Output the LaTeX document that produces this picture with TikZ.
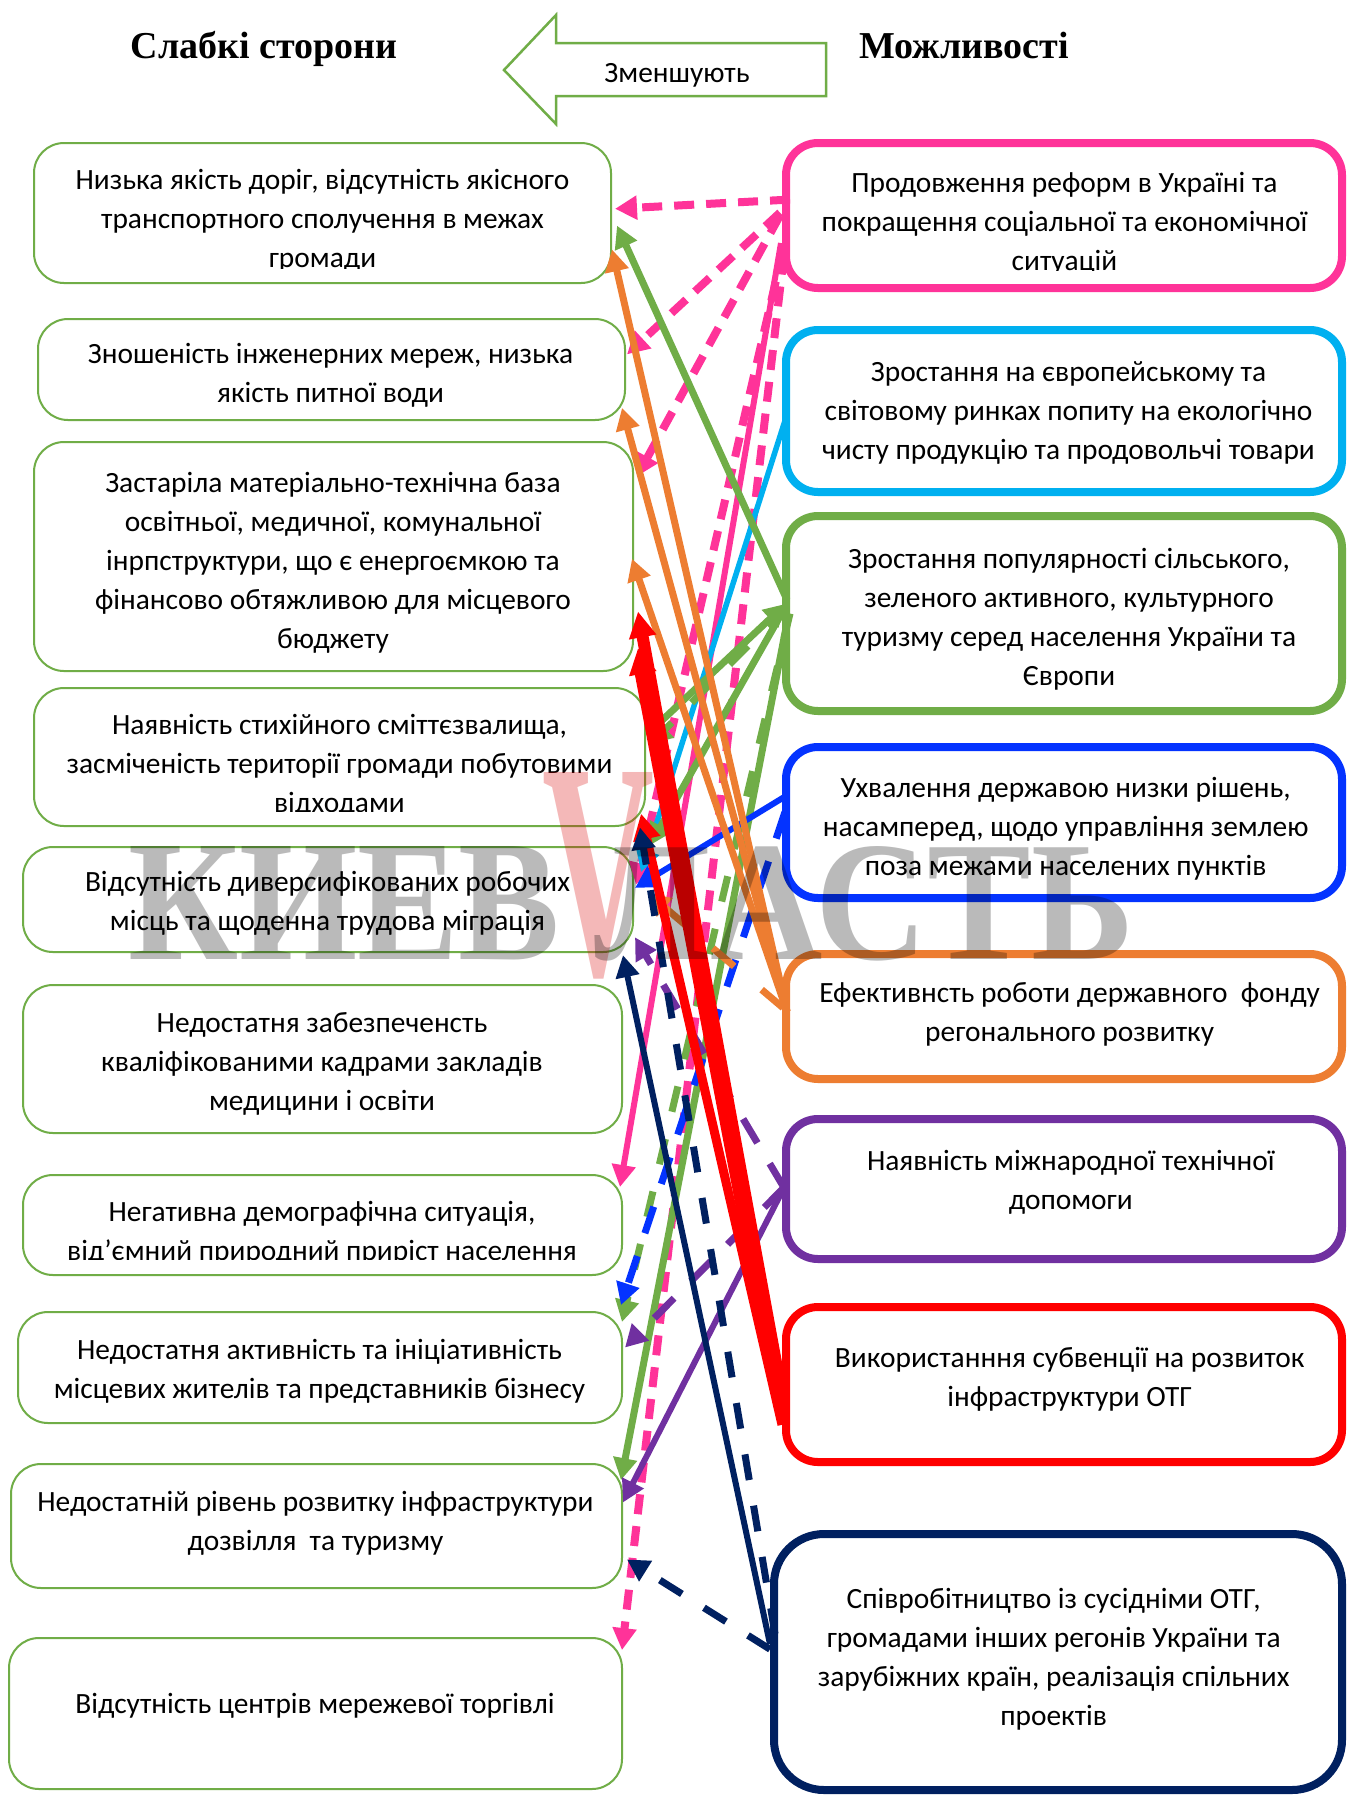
\documentclass[tikz,border=0pt]{standalone}
\usepackage{fontspec}
\setmainfont{Carlito}
\newfontfamily\titlefont{Liberation Serif}
\usepackage{graphicx}
\usetikzlibrary{arrows.meta,calc}
\definecolor{pinkc}{HTML}{FF3399}
\definecolor{cyanc}{HTML}{00B0F0}
\definecolor{greenc}{HTML}{70AD47}
\definecolor{bluec}{HTML}{0433FF}
\definecolor{orangec}{HTML}{ED7D31}
\definecolor{purplec}{HTML}{7030A0}
\definecolor{redc}{HTML}{FF0000}
\definecolor{navyc}{HTML}{002060}
\tikzset{
  lbox/.style={draw=greenc, line width=1pt, rounded corners=15pt, fill=white, outer sep=0pt, inner sep=0pt},
  rbox/.style={draw=#1, line width=4pt, rounded corners=16pt, fill=white, outer sep=0pt, inner sep=0pt},
  txt/.style={align=center, font=\fontsize{14.7}{19.5}\selectfont, inner sep=0pt, yshift=-0.75pt},
  arrtip/.style={-{Triangle[length=11pt,width=11.5pt]}},
  pinkdash/.style={draw=pinkc, line width=4pt, dash pattern=on 10pt off 6pt, arrtip},
  pinkline/.style={draw=pinkc, line width=3pt, arrtip},
  cyanline/.style={draw=cyanc, line width=2.75pt, arrtip},
  greenline/.style={draw=greenc, line width=3.5pt, arrtip},
  greendash/.style={draw=greenc, line width=3.5pt, dash pattern=on 13pt off 14pt, arrtip},
  blueline/.style={draw=bluec, line width=3pt, arrtip},
  bluedash/.style={draw=bluec, line width=3.5pt, dash pattern=on 14pt off 12pt, arrtip},
  orangeline/.style={draw=orangec, line width=3.5pt, arrtip},
  orangedash/.style={draw=orangec, line width=3.5pt, dash pattern=on 14pt off 18pt, arrtip},
  purpleline/.style={draw=purplec, line width=3pt, arrtip},
  purpledash/.style={draw=purplec, line width=3.5pt, dash pattern=on 14pt off 12pt, arrtip},
  redline/.style={draw=redc, -{Triangle[length=13pt,width=13pt]}},
  navyline/.style={draw=navyc, line width=3pt, arrtip},
  navydash/.style={draw=navyc, line width=3.5pt, dash pattern=on 13pt off 13pt, arrtip},
}
\begin{document}
\begin{tikzpicture}[x=0.5pt,y=-0.5pt]
\useasboundingbox[fill=white] (0,0) rectangle (1351,1796);

% titles
\node[font=\titlefont\bfseries\fontsize{19}{23}\selectfont, anchor=base, inner sep=0pt] (ttl) at (264,58) {Слабкі сторони};
\node[font=\titlefont\bfseries\fontsize{19}{23}\selectfont, anchor=base, inner sep=0pt] (ttr) at (964,58) {Можливості};
\draw[draw=greenc, line width=1.25pt, fill=white] (826,43) -- (556,43) -- (556,15) -- (504,70) -- (556,124) -- (556,96) -- (826,96) -- cycle;
\node[font=\fontsize{14.7}{17}\selectfont, inner sep=0pt] (arrtxt) at (677,75) {Зменшують};

% left boxes
\node[lbox, minimum width=288.5pt, minimum height=70pt] (L1) at (322.5,213) {};
\node[lbox, minimum width=293.5pt, minimum height=50.5pt] (L2) at (331.5,369.5) {};
\node[lbox, minimum width=299.5pt, minimum height=114.5pt] (L3) at (333.5,556.5) {};
\node[lbox, minimum width=305.5pt, minimum height=69pt] (L4) at (339.5,757) {};
\node[lbox, minimum width=305pt, minimum height=52.5pt] (L5) at (328,899.5) {};
\node[lbox, minimum width=299.5pt, minimum height=74pt] (L6) at (322.5,1059) {};
\node[lbox, minimum width=299.5pt, minimum height=50pt] (L7) at (322.5,1225) {};
\node[lbox, minimum width=302pt, minimum height=55.5pt] (L8) at (320,1367.5) {};
\node[lbox, minimum width=305.5pt, minimum height=62pt] (L9) at (316.5,1526) {};
\node[lbox, minimum width=306.5pt, minimum height=75.5pt] (L10) at (315.5,1713.5) {};

% right boxes
\node[rbox=pinkc, minimum width=278pt, minimum height=72.5pt] (R1) at (1064,215.5) {};
\node[rbox=cyanc, minimum width=278pt, minimum height=81pt] (R2) at (1064,411) {};
\node[rbox=greenc, minimum width=278pt, minimum height=97.5pt] (R3) at (1064,613.5) {};
\node[rbox=bluec, minimum width=278pt, minimum height=75.5pt] (R4) at (1064,822.5) {};
\node[rbox=orangec, minimum width=278pt, minimum height=62.5pt] (R5) at (1064,1016.5) {};
\node[rbox=purplec, minimum width=278pt, minimum height=70pt] (R6) at (1064,1189) {};
\node[rbox=redc, minimum width=278pt, minimum height=77.5pt] (R7) at (1064,1384.5) {};
\node[rbox=navyc, rounded corners=25pt, minimum width=284pt, minimum height=128pt] (R8) at (1058,1662) {};

% texts
\begin{scope}
\clip (L1.north west) rectangle ($(L1.south east)+(0,-14.5)$);
\node[txt] (L1t) at (322.5,219) {Низька якість доріг, відсутність якісного\\транспортного сполучення в межах\\громади};
\end{scope}
\node[txt] (L2t) at (330.5,373.5) {Зношеність інженерних мереж, низька\\якість питної води};
\begin{scope}
\clip (L3.north west) rectangle ($(L3.south east)+(0,-17.5)$);
\node[txt] (L3t) at (333,561) {Застаріла матеріально-технічна база\\освітньої, медичної, комунальної\\інрпструктури, що є енергоємкою та\\фінансово обтяжливою для місцевого\\бюджету};
\end{scope}
\begin{scope}
\clip (L4.north west) rectangle ($(L4.south east)+(0,-14.5)$);
\node[txt] (L4t) at (339.5,764) {Наявність стихійного сміттєзвалища,\\засміченість території громади побутовими\\відходами};
\end{scope}
\node[txt] (L5t) at (327.5,901.5) {Відсутність диверсифікованих робочих\\місць та щоденна трудова міграція};
\node[txt] (L6t) at (322,1062) {Недостатня забезпеченсть\\кваліфікованими кадрами закладів\\медицини і освіти};
\begin{scope}
\clip (L7.north west) rectangle ($(L7.south east)+(0,-15.5)$);
\node[txt] (L7t) at (322,1232) {Негативна демографічна ситуація,\\від’ємний природний приріст населення};
\end{scope}
\node[txt] (L8t) at (319.5,1369.5) {Недостатня активність та ініціативність\\місцевих жителів та представників бізнесу};
\node[txt] (L9t) at (315.5,1522) {Недостатній рівень розвитку інфраструктури\\дозвілля\ \ та туризму};
\node[txt] (L10t) at (315,1704) {Відсутність центрів мережевої торгівлі};

\begin{scope}
\clip (R1.north west) rectangle ($(R1.south east)+(0,-17.5)$);
\node[txt] (R1t) at (1064.5,222.3) {Продовження реформ в Україні та\\покращення соціальної та економічної\\ситуацій};
\end{scope}
\node[txt] (R2t) at (1068.5,411.4) {Зростання на європейському та\\світовому ринках попиту на екологічно\\чисту продукцію та продовольчі товари};
\node[txt] (R3t) at (1069,618.2) {Зростання популярності сільського,\\зеленого активного, культурного\\туризму серед населення України та\\Європи};
\node[txt] (R4t) at (1065.7,827.3) {Ухвалення державою низки рішень,\\насамперед, щодо управління землею\\поза межами населених пунктів};
\node[txt] (R5t) at (1069.7,1013) {Ефективнсть роботи державного\ \ фонду\\регонального розвитку};
\node[txt] (R6t) at (1070.8,1180.3) {Наявність міжнародної технічної\\допомоги};
\node[txt] (R7t) at (1069.7,1377.4) {Використанння субвенції на розвиток\\інфраструктури ОТГ};
\node[txt] (R8t) at (1053.7,1658) {Співробітництво із сусідніми ОТГ,\\громадами інших регонів України та\\зарубіжних країн, реалізація спільних\\проектів};

% pink connectors
\draw[pinkdash] ($(R1.north west)!0.39!(R1.south west)+(4,0)$) -- ($(L1.north east)!0.47!(L1.south east)+(4,0)$);
\draw[pinkdash] ($(R1.north west)!0.48!(R1.south west)+(-6,0)$) -- ($(L2.north east)!0.35!(L2.south east)+(2,0)$);
\draw[pinkdash] ($(R1.north west)!0.50!(R1.south west)+(-6,0)$) -- ($(L3.north east)!0.15!(L3.south east)+(4,0)$);
\draw[pinkline] ($(R1.north west)!0.69!(R1.south west)+(-5,0)$) -- ($(L7.north east)!0.12!(L7.south east)+(-2,0)$);
\draw[pinkdash] ($(R1.north west)!0.77!(R1.south west)+(-2,0)$) -- ($(L10.north east)!0.08!(L10.south east)$);
\draw[pinkdash] ($(R1.north west)!0.74!(R1.south west)+(-3,0)$) -- ($(L5.north east)!0.36!(L5.south east)+(3,0)$);
% cyan
\draw[cyanline] ($(R2.north west)!0.54!(R2.south west)$) -- ($(L5.north east)!0.24!(L5.south east)+(8,0)$);
% green
\draw[greenline] ($(R3.north west)!0.43!(R3.south west)+(1,0)$) -- ($(L1.north east)!0.59!(L1.south east)+(6,0)$);
\draw[greenline] ($(L4.north east)!0.33!(L4.south east)+(3,0)$) -- ($(R3.north west)!0.45!(R3.south west)$);
\draw[greendash] ($(R3.north west)!0.47!(R3.south west)$) -- ($(L4.north east)!0.41!(L4.south east)+(5,0)$);
\draw[greenline] ($(R3.north west)!0.46!(R3.south west)$) -- ($(L4.north east)!1.14!(L4.south east)+(5,0)$);
\draw[greendash] ($(R3.north west)!0.50!(R3.south west)+(4,0)$) -- ($(L8.north east)!0.09!(L8.south east)$);
\draw[greenline] ($(R3.north west)!0.52!(R3.south west)+(2,0)$) -- ($(L9.north east)!0.13!(L9.south east)+(-1,0)$);
% blue
\draw[blueline] ($(R4.north west)!0.32!(R4.south west)+(1,0)$) -- ($(L5.north east)!0.39!(L5.south east)+(2,0)$);
\draw[bluedash] ($(R4.north west)!0.43!(R4.south west)+(-1,0)$) -- ($(L7.north east)!1.30!(L7.south east)+(-1,0)$);
% orange
\draw[orangeline] ($(R5.north west)!0.46!(R5.south west)+(1,0)$) -- ($(L1.north east)!0.76!(L1.south east)+(1,0)$);
\draw[orangeline] ($(R5.north west)!0.46!(R5.south west)+(1,0)$) -- ($(L2.north east)!0.88!(L2.south east)+(-3,0)$);
\draw[orangeline] ($(R5.north west)!0.46!(R5.south west)+(1,0)$) -- ($(L3.north east)!0.51!(L3.south east)+(-1,0)$);
\draw[orangedash] ($(R5.north west)!0.43!(R5.south west)+(-3,0)$) -- ($(L5.north east)!0.44!(L5.south east)+(15,0)$);
% purple
\draw[purpleline] ($(R6.north west)!0.49!(R6.south west)+(-2,0)$) -- ($(L9.north east)!0.31!(L9.south east)+(1,0)$);
\draw[purpledash] ($(R6.north west)!0.49!(R6.south west)+(-2,0)$) -- ($(L8.north east)!0.32!(L8.south east)+(3,0)$);
\draw[purpledash] ($(R6.north west)!0.49!(R6.south west)+(-2,0)$) -- ($(L5.north east)!0.86!(L5.south east)+(2,0)$);
% red
\draw[redline, line width=6pt] ($(R7.north west)!0.57!(R7.south west)+(-4,0)$) -- ($(L3.north east)!0.74!(L3.south east)+(5,0)$);
\draw[redline, line width=8pt] ($(R7.north west)!0.65!(R7.south west)+(-4,0)$) -- ($(L3.north east)!0.90!(L3.south east)+(5,0)$);
\draw[redline, line width=4.5pt] ($(R7.north west)!0.76!(R7.south west)+(-4,0)$) -- ($(L4.north east)!0.91!(L4.south east)+(-4,0)$);
% navy
\draw[navyline] ($(R8.north west)!0.43!(R8.south west)+(-4,0)$) -- ($(L5.north east)!1.03!(L5.south east)+(-10,0)$);
\draw[navydash] ($(R8.north west)!0.39!(R8.south west)+(1,0)$) -- ($(L4.north east)!1.01!(L4.south east)+(-5,0)$);
\draw[navydash] ($(R8.north west)!0.45!(R8.south west)+(-4,0)$) -- ($(L9.north east)!0.77!(L9.south east)+(5,0)$);

% watermark
\node[opacity=0.27, text opacity=0.27, inner sep=0pt] (wm1) at (344.5,903.5) {\resizebox{215.5pt}{56.5pt}{\titlefont\bfseries КИЕВ}};
\node[opacity=0.28, text opacity=0.28, text=red!85!black, inner sep=0pt] (wm2) at (599,876) {\resizebox{56pt}{101pt}{\titlefont\bfseries V}};
\node[opacity=0.27, text opacity=0.27, inner sep=0pt] (wm3) at (864.5,903.5) {\resizebox{269.5pt}{56.5pt}{\titlefont\bfseries ЛАСТЬ}};
\end{tikzpicture}
\end{document}
